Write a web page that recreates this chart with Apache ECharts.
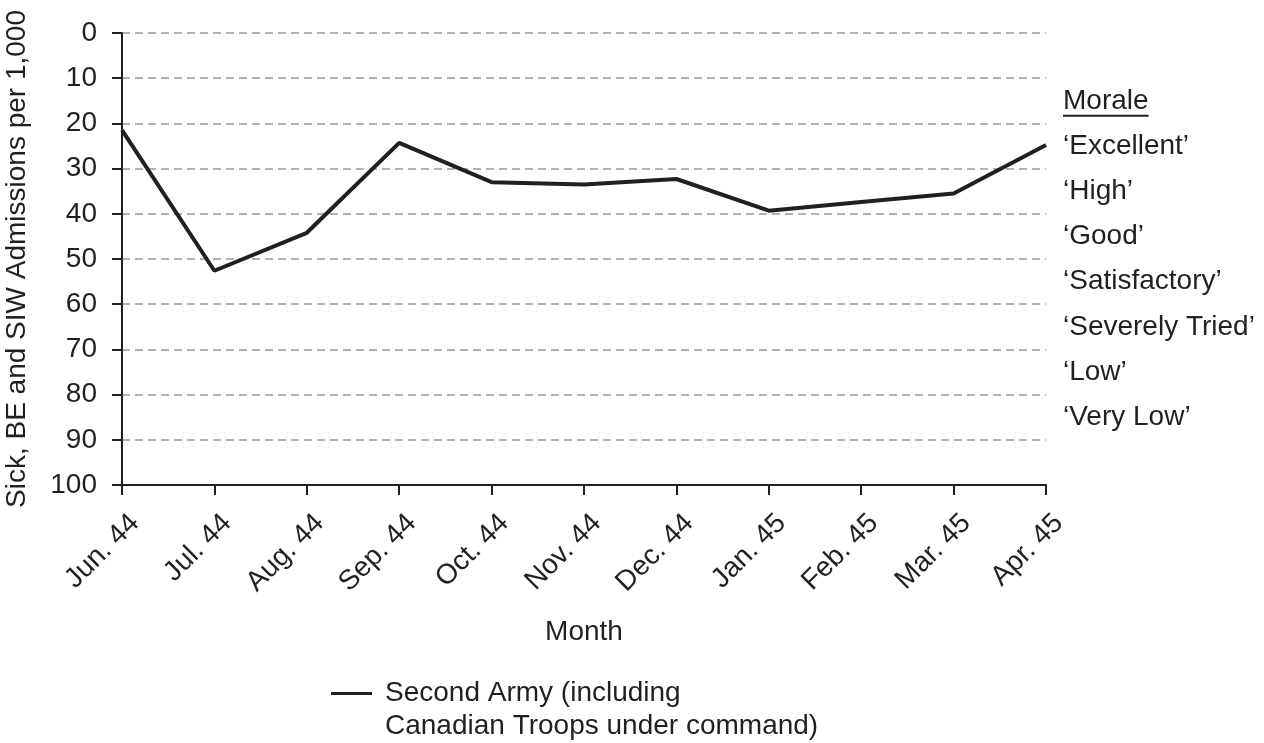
<!DOCTYPE html>
<html>
<head>
<meta charset="utf-8">
<script src="https://cdn.jsdelivr.net/npm/echarts@6/dist/echarts.min.js"></script>
<style>html,body{margin:0;padding:0;background:#fff;}#c{width:1264px;height:743px;}</style>
</head>
<body>
<div id="c"></div>
<script>
const months = ['Jun. 44','Jul. 44','Aug. 44','Sep. 44','Oct. 44','Nov. 44','Dec. 44','Jan. 45','Feb. 45','Mar. 45','Apr. 45'];
const admissions = [21.5, 52.6, 44.2, 24.3, 33.0, 33.5, 32.3, 39.3, 37.4, 35.5, 24.8];
const seriesName = 'Second Army (including Canadian Troops under command)';
const legendLines = ['Second Army (including', 'Canadian Troops under command)'];
const moraleTitle = 'Morale';
const moraleValues = [25, 35, 45, 55, 65, 75, 85];
const moraleLabels = ['‘Excellent’', '‘High’', '‘Good’', '‘Satisfactory’', '‘Severely Tried’', '‘Low’', '‘Very Low’'];
const moraleTitleValue = 15;
const yAxisTitle = 'Sick, BE and SIW Admissions per 1,000';
const xAxisTitle = 'Month';

const FONT = '"Liberation Sans", Arial, Helvetica, sans-serif';
const FS = 28;
const INK = '#231f20';
const chart = echarts.init(document.getElementById('c'));

const moraleMap = {};
moraleValues.forEach((v, i) => { moraleMap[v] = moraleLabels[i]; });
moraleMap[moraleTitleValue] = moraleTitle;

chart.setOption({
  animation: false,
  backgroundColor: '#fff',
  textStyle: { fontFamily: FONT },
  grid: { left: 122, right: 218, top: 33, bottom: 258, containLabel: false, outerBoundsMode: 'none' },
  legend: {
    left: 326, top: 639,
    icon: 'rect',
    itemWidth: 41, itemHeight: 3, itemGap: 10,
    data: [seriesName],
    formatter: () => '\n' + legendLines.join('\n'),
    textStyle: { fontSize: FS, color: INK, fontFamily: FONT, lineHeight: 33, padding: [0, 0, 0, 8] }
  },
  xAxis: {
    type: 'category',
    data: months,
    boundaryGap: false,
    position: 'bottom',
    name: xAxisTitle,
    nameLocation: 'middle',
    nameGap: 133,
    nameTextStyle: { fontSize: FS, color: INK, fontFamily: FONT },
    axisLine: { onZero: false, lineStyle: { color: INK, width: 2 } },
    axisTick: { show: true, length: 10, lineStyle: { color: INK, width: 2 } },
    axisLabel: { rotate: 45, fontSize: FS, color: INK, margin: 21, interval: 0, fontFamily: FONT,
                 verticalAlign: 'top', padding: [4, 0, 0, 0] },
    splitLine: { show: false }
  },
  yAxis: [{
    type: 'value',
    inverse: true,
    min: 0, max: 100, interval: 10,
    name: yAxisTitle,
    nameLocation: 'middle',
    nameGap: 91,
    nameTextStyle: { fontSize: FS, color: INK, fontFamily: FONT },
    axisLine: { show: true, lineStyle: { color: INK, width: 2 } },
    axisTick: { show: true, length: 10, lineStyle: { color: INK, width: 2 } },
    axisLabel: { fontSize: FS, color: INK, margin: 25, fontFamily: FONT },
    splitLine: { show: true, lineStyle: { color: '#999', width: 1.5, type: [8, 5] } }
  }, {
    type: 'value',
    inverse: true,
    position: 'right',
    min: 0, max: 100, interval: 5,
    axisLine: { show: false },
    axisTick: { show: false },
    splitLine: { show: false },
    axisLabel: {
      margin: 17, fontSize: FS, color: INK, fontFamily: FONT, align: 'left',
      formatter: v => moraleMap[v] || ''
    }
  }],
  series: [{
    name: seriesName,
    type: 'line',
    data: admissions,
    symbol: 'none',
    lineStyle: { color: INK, width: 4 },
    itemStyle: { color: INK }
  }]
});

// underline for the "Morale" heading
const p = chart.convertToPixel({ yAxisIndex: 1 }, moraleTitleValue);
const x0 = 1046 + 17;
const ctx = document.createElement('canvas').getContext('2d');
ctx.font = FS + 'px ' + FONT;
const tw = ctx.measureText(moraleTitle).width;
chart.setOption({
  graphic: [{
    type: 'line',
    shape: { x1: x0, y1: p + 15, x2: x0 + tw, y2: p + 15 },
    style: { stroke: INK, lineWidth: 2 }
  }]
});
</script>
</body>
</html>
